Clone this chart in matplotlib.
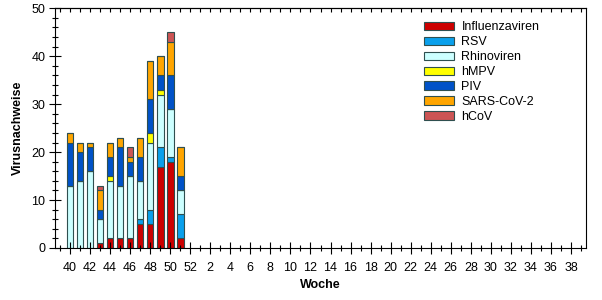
import matplotlib
matplotlib.use("Agg")
import matplotlib.pyplot as plt
from matplotlib.ticker import MultipleLocator, FixedLocator
import numpy as np

plt.rcParams['font.family'] = ['Liberation Sans', 'DejaVu Sans']

weeks = list(range(40, 53)) + list(range(1, 40))
data_weeks = [40, 41, 42, 43, 44, 45, 46, 47, 48, 49, 50, 51]
series_names = ["Influenzaviren", "RSV", "Rhinoviren", "hMPV", "PIV", "SARS-CoV-2", "hCoV"]
influenza = [0, 0, 0, 1, 2, 2, 2, 5, 5, 17, 18, 2]
rsv       = [0, 0, 0, 0, 0, 0, 0, 1, 3, 4, 1, 5]
rhino     = [13, 14, 16, 5, 12, 11, 13, 8, 14, 11, 10, 5]
hmpv      = [0, 0, 0, 0, 1, 0, 0, 0, 2, 1, 0, 0]
piv       = [9, 6, 5, 2, 4, 8, 3, 5, 7, 3, 7, 3]
sars      = [2, 2, 1, 4, 3, 2, 1, 4, 8, 4, 7, 6]
hcov      = [0, 0, 0, 1, 0, 0, 2, 0, 0, 0, 2, 0]
colors = ["#CC0000", "#0AA0EC", "#CCFFFF", "#FFFF00", "#0052C8", "#FFA500", "#CC5555"]
tick_labels = [str(w) for w in weeks[::2]]

series = [influenza, rsv, rhino, hmpv, piv, sars, hcov]

fig = plt.figure(figsize=(6.02, 3.0), dpi=100)
ax = fig.add_axes([55/602, 52/300, 531/602, 239.7/300])

x = np.array([weeks.index(w) for w in data_weeks])
bottom = np.zeros(len(x))
for name, vals, c in zip(series_names, series, colors):
    ax.bar(x, vals, bottom=bottom, width=0.66, color=c, edgecolor="#2F4F4F",
           linewidth=0.8, label=name)
    bottom += np.array(vals)

ax.set_xlim(-1.5, 51.5)
ax.set_ylim(0, 50)
ax.xaxis.set_major_locator(FixedLocator(list(range(0, len(weeks), 2))))
ax.set_xticklabels(tick_labels)
ax.xaxis.set_minor_locator(MultipleLocator(1))
ax.yaxis.set_major_locator(MultipleLocator(10))
ax.yaxis.set_minor_locator(MultipleLocator(2))

ax.tick_params(axis='x', which='major', direction='inout', length=8, width=0.8,
               labelsize=9, pad=6, top=False)
ax.tick_params(axis='x', which='minor', direction='inout', length=5, width=0.8, top=False)
ax.tick_params(axis='y', which='major', direction='inout', length=8, width=0.8,
               labelsize=9, pad=3)
ax.tick_params(axis='y', which='minor', direction='inout', length=5, width=0.8)

# top ticks (inward, every week)
sec = ax.secondary_xaxis('top')
sec.xaxis.set_major_locator(MultipleLocator(1))
sec.tick_params(axis='x', which='major', direction='in', length=3, width=0.8, labeltop=False)
sec.spines['top'].set_linewidth(0.8)

for s in ax.spines.values():
    s.set_linewidth(0.8)

ax.set_xlabel("Woche", fontsize=9, fontweight='bold', labelpad=4)
ax.set_ylabel("Virusnachweise", fontsize=9, fontweight='bold', labelpad=5)

leg = ax.legend(loc='upper left', bbox_to_anchor=(424/602, 1 - 21.5/300),
                bbox_transform=fig.transFigure, frameon=False, fontsize=9,
                handlelength=2.4, handleheight=0.65, handletextpad=0.6,
                labelspacing=0.23, borderpad=0, borderaxespad=0)

fig.savefig("out.png", dpi=100)
